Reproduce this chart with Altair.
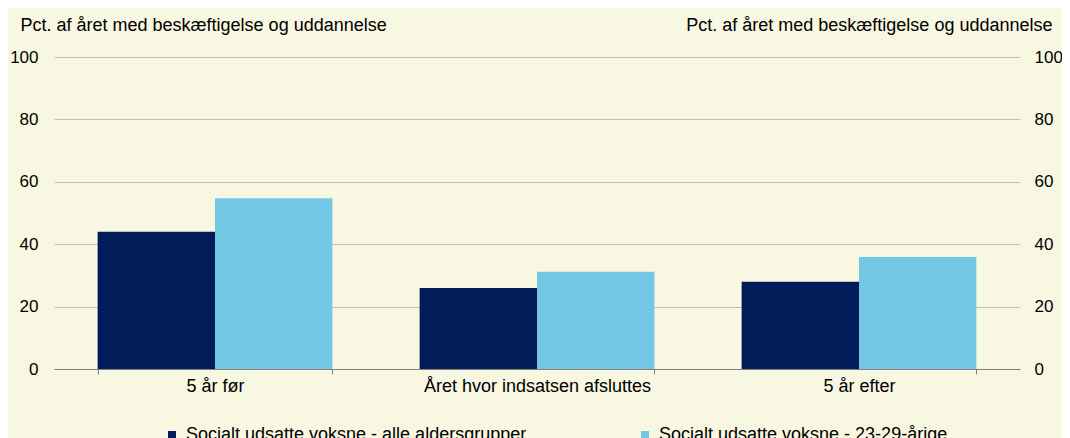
import altair as alt
import pandas as pd

categories = ["5 år før", "Året hvor indsatsen afsluttes", "5 år efter"]
series = ["Socialt udsatte voksne - alle aldersgrupper", "Socialt udsatte voksne - 23-29-årige"]
values_all = [44, 26, 28]
values_young = [54.7, 31.2, 35.9]
colors = ["#021C5A", "#73C8E6"]
y_title = "Pct. af året med beskæftigelse og uddannelse"

rows = []
for c, a, b in zip(categories, values_all, values_young):
    rows.append({"kat": c, "serie": series[0], "v": a})
    rows.append({"kat": c, "serie": series[1], "v": b})
df = pd.DataFrame(rows)

FONT = "Liberation Sans"
FS = 18
FST = 17

x_enc = alt.X("kat:N", sort=categories, title=None,
              scale=alt.Scale(paddingInner=0.271, paddingOuter=0.1355),
              axis=alt.Axis(labelAngle=0, tickBand="extent", tickSize=5, tickColor="#7F7F7F",
                            domainColor="#7F7F7F", labelPadding=3, labelFont=FONT,
                            labelFontSize=FS, labelColor="#000000", labelLimit=600, grid=False))

bars = alt.Chart(df).mark_bar().encode(
    x=x_enc,
    xOffset=alt.XOffset("serie:N", sort=series, scale=alt.Scale(paddingInner=0, paddingOuter=0)),
    y=alt.Y("v:Q", scale=alt.Scale(domain=[0, 100]),
            axis=alt.Axis(values=[0, 20, 40, 60, 80, 100], orient="left", domain=False, ticks=False,
                          grid=True, gridColor="#BDBDBD", gridWidth=1.2,
                          labelFont=FONT, labelFontSize=FST, labelColor="#000000", labelPadding=16,
                          title=y_title, titleAngle=0, titleAlign="left", titleBaseline="alphabetic",
                          titleX=-34, titleY=-27, titleFont=FONT, titleFontSize=FS,
                          titleFontWeight="normal", titleColor="#000000")),
    color=alt.Color("serie:N", sort=series, scale=alt.Scale(domain=series, range=colors),
                    legend=alt.Legend(title=None, orient="none", legendX=109, legendY=369,
                                      direction="horizontal", columns=2, columnPadding=109,
                                      symbolType="square", symbolSize=64, symbolStrokeWidth=0,
                                      labelFont=FONT, labelFontSize=FS, labelColor="#000000",
                                      labelOffset=5, labelLimit=600))
)

right = alt.Chart(df).mark_tick(opacity=0).encode(
    x=alt.X("kat:N", sort=categories),
    y=alt.Y("v:Q", scale=alt.Scale(domain=[0, 100]),
            axis=alt.Axis(values=[0, 20, 40, 60, 80, 100], orient="right", domain=False, ticks=False,
                          grid=False, labelFont=FONT, labelFontSize=FST, labelColor="#000000",
                          labelPadding=14,
                          title=y_title, titleAngle=0, titleAlign="right", titleBaseline="alphabetic",
                          titleX=32, titleY=-27, titleFont=FONT, titleFontSize=FS,
                          titleFontWeight="normal", titleColor="#000000"))
)

chart = alt.layer(bars, right).resolve_scale(y="independent").properties(
    width=966, height=312,
    background="#F8F7E1",
    padding={"left": 46, "top": 49, "right": 42, "bottom": 69},
    autosize=alt.AutoSizeParams(type="none"),
).configure_view(stroke=None)

chart.save("out.html", embed_options={"renderer": "svg", "actions": False})
